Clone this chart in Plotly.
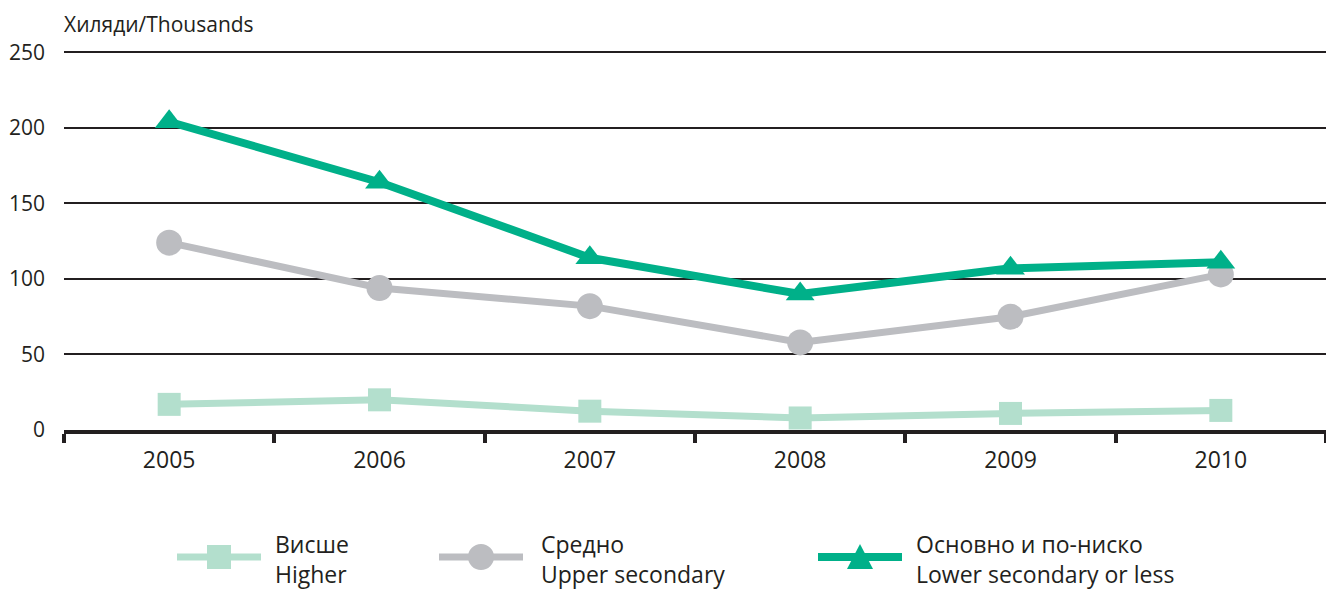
import plotly.graph_objects as go

years = ["2005", "2006", "2007", "2008", "2009", "2010"]
higher = [17, 20, 12.5, 8, 11, 13]
upper_secondary = [124, 94, 82, 58, 75, 103]
lower_secondary = [204, 164, 114, 90, 107, 111]

names_bg = ["Висше", "Средно", "Основно и по-ниско"]
names_en = ["Higher", "Upper secondary", "Lower secondary or less"]
colors = ["#b3dfcd", "#bcbdc1", "#00b089"]
symbols = ["square", "circle", "triangle-up"]
sizes = [23, 26, 25]
widths = [7, 7, 8]

# the page body has an 8px margin, so the figure is drawn 8px in and down
OFF = 8
W, H = 1334 - OFF, 589 - OFF
YMAX = 250.8  # a bit above 250 so the top gridline is drawn
PLOT_BOTTOM = 430  # screen row of the zero line
PLOT_TOP = PLOT_BOTTOM - (430 - 52) * YMAX / 250
L, R, T = 64 - OFF, 8, PLOT_TOP - OFF
PH = H - T


def px(x):
    # screen column -> paper x
    return (x - OFF - L) / (W - L - R)


def py(y):
    # screen row -> paper y
    return (H - (y - OFF)) / PH


fig = go.Figure()
for vals, name, color, sym, size, w in zip([higher, upper_secondary, lower_secondary],
                                           names_en, colors, symbols, sizes, widths):
    fig.add_trace(go.Scatter(
        x=years, y=vals, name=name, mode="lines+markers",
        line=dict(color=color, width=w),
        marker=dict(symbol=sym, size=size, color=color),
        showlegend=False,
    ))

# hand-drawn legend below the chart
shapes = []
annotations = [dict(
    text="Хиляди/Thousands", xref="paper", yref="paper", x=px(62), y=py(24),
    xanchor="left", yanchor="middle", showarrow=False, font=dict(size=21),
)]
legend_x = [177, 439, 818]
text_x = [274, 540, 915]
ly = 557
for i, (x0, tx) in enumerate(zip(legend_x, text_x)):
    c = colors[i]
    shapes.append(dict(type="line", xref="paper", yref="paper",
                       x0=px(x0), x1=px(x0 + 84), y0=py(ly), y1=py(ly),
                       line=dict(color=c, width=widths[i])))
    cx = x0 + 42
    if symbols[i] == "square":
        shapes.append(dict(type="rect", xref="paper", yref="paper",
                           x0=px(cx - 12), x1=px(cx + 12), y0=py(ly + 12), y1=py(ly - 12),
                           fillcolor=c, line=dict(width=0)))
    elif symbols[i] == "circle":
        shapes.append(dict(type="circle", xref="paper", yref="paper",
                           x0=px(cx - 13), x1=px(cx + 13), y0=py(ly + 13), y1=py(ly - 13),
                           fillcolor=c, line=dict(width=0)))
    else:
        path = "M %f %f L %f %f L %f %f Z" % (px(cx - 13), py(ly + 12), px(cx + 13), py(ly + 12),
                                              px(cx), py(ly - 13))
        shapes.append(dict(type="path", xref="paper", yref="paper", path=path,
                           fillcolor=c, line=dict(width=0)))
    annotations.append(dict(text=names_bg[i] + "<br>" + names_en[i], xref="paper", yref="paper",
                            x=px(tx), y=py(559), xanchor="left", yanchor="middle", align="left",
                            showarrow=False, borderpad=0, font=dict(size=23)))

fig.update_layout(
    width=W, height=H,
    plot_bgcolor="white", paper_bgcolor="white",
    font=dict(family="Open Sans", size=21, color="#231f20"),
    margin=dict(l=L, r=R, t=T, b=0),
    showlegend=False,
    shapes=shapes,
    annotations=annotations,
)
fig.update_xaxes(
    type="category", tickson="boundaries", ticks="outside", ticklen=9,
    tickwidth=4, tickcolor="#231f20", showline=True, linewidth=4,
    linecolor="#231f20", showgrid=False, range=[-0.5, 5.5],
    tickfont=dict(size=23), ticklabelstandoff=6, automargin=False,
)
fig.update_yaxes(
    domain=[py(PLOT_BOTTOM), 1],
    range=[0, YMAX], tickvals=[0, 50, 100, 150, 200, 250], showgrid=True,
    gridcolor="#231f20", gridwidth=2, zeroline=False, ticklabelstandoff=18,
    tickfont=dict(size=21), automargin=False,
)
fig.write_html("out.html")
